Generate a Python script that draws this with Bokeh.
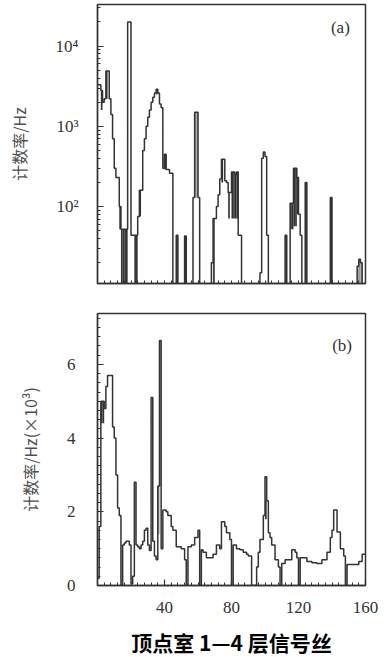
import numpy as np
from bokeh.plotting import figure
from bokeh.models import FixedTicker, Title
from bokeh.layouts import column
from bokeh.embed import file_html
from bokeh.resources import INLINE
from bokeh.core.properties import value

# ---------------- data ----------------
# channel (signal wire) bins 0..159, width 1
rate_a = [3300, 3300, 2800, 2000, 2200, 4900, 4900, 2200, 1400, 700,
          300, 230, 230, 100, 52, 52, 52, 52, 20000, 20000,
          44, 44, 44, 44, 75, 160, 160, 500, 700, 1000,
          1300, 1600, 2000, 2300, 2600, 2900, 2600, 1900, 1700, 300,
          450, 290, 290, 260, 260, 0, 0, 44, 0, 0,
          0, 0, 43, 0, 0, 0, 0, 130, 1500, 1500,
          130, 0, 0, 0, 0, 0, 0, 0, 20, 71,
          71, 100, 140, 220, 390, 390, 210, 200, 150, 150,
          270, 270, 250, 270, 44, 44, 0, 0, 0, 0,
          0, 0, 0, 0, 0, 0, 0, 15, 400, 480,
          420, 44, 0, 0, 0, 0, 0, 0, 0, 0,
          0, 0, 44, 0, 0, 110, 110, 300, 300, 230,
          80, 44, 0, 0, 200, 0, 0, 0, 0, 0,
          0, 0, 0, 0, 0, 0, 0, 0, 0, 130,
          0, 0, 0, 0, 0, 0, 0, 0, 0, 0,
          0, 0, 0, 0, 0, 18, 22, 20, 0, 0]

# dark-filled parts of panel (a): bin, low, high (Hz)
dark_a_bin = [2, 5, 13, 14, 15, 16, 17, 22, 23, 25, 35, 40, 47, 52, 69, 74, 78,
              80, 81, 82, 83, 112, 115, 116, 117, 118, 119, 124, 139]
dark_a_lo = [1600, 2200, 52, 1, 1, 1, 1, 1, 1, 75, 2500, 290, 1, 1, 1, 200, 71,
             71, 71, 71, 71, 1, 52, 52, 57, 57, 80, 1, 1]
dark_a_hi = [2800, 4900, 100, 52, 52, 52, 52, 44, 44, 160, 2900, 450, 44, 43, 71, 390, 150,
             270, 270, 250, 270, 44, 110, 110, 300, 300, 230, 200, 130]
gray_a_bin = [58, 59, 155, 156, 157]
gray_a_lo = [130, 130, 1, 1, 1]
gray_a_hi = [1500, 1500, 18, 22, 20]

rate_b = [0.2, 1.6, 5.0, 5.0, 4.8, 5.4, 5.7, 5.7, 5.7, 4.3,
          4.0, 3.0, 2.1, 1.9, 0, 1.1, 1.15, 1.2, 1.2, 1.1,
          0.05, 0.25, 2.8, 1.1, 1.05, 1.0, 1.1, 1.2, 1.5, 1.55,
          1.1, 0.95, 5.1, 1.2, 0.8, 0.7, 2.7, 6.65, 1.0, 2.05,
          2.05, 2.0, 1.9, 1.9, 1.6, 1.5, 1.5, 1.05, 1.05, 1.05,
          1.0, 1.0, 0.7, 0, 1.05, 1.05, 1.1, 1.1, 1.3, 1.3,
          1.5, 0, 0.97, 0.9, 0.9, 0.75, 0.75, 0.75, 0.75, 0.85,
          0.85, 1.1, 1.1, 1.0, 1.73, 1.73, 1.6, 1.43, 1.43, 1.25,
          0, 1.1, 1.1, 1.0, 1.0, 0.97, 0.97, 0.9, 0.9, 0.85,
          0.8, 0.8, 0, 0, 0, 0.5, 0.9, 1.25, 1.25, 1.9,
          2.95, 2.3, 1.43, 1.3, 1.1, 1.1, 0.7, 0.7, 0.5, 0,
          0.6, 0.6, 0.7, 0.7, 0.7, 0.7, 0.97, 0.97, 0.9, 0.75,
          0, 0.75, 0.75, 0.75, 0.75, 0.65, 0.65, 0.65, 0.62, 0.62,
          0.62, 0.6, 0.6, 0.6, 0.7, 0.7, 0.7, 0.9, 0.9, 1.3,
          1.5, 2.05, 2.05, 1.45, 1.45, 1.0, 1.0, 0.8, 0, 0.57,
          0.57, 0.57, 0.57, 0.57, 0.57, 0.57, 0.65, 0.65, 0.85, 0.85]

dark_b_bin = [2, 3, 100]
dark_b_lo = [4.4, 4.4, 1.8]
dark_b_hi = [5.0, 5.0, 2.3]
gray_b_bin = [36]
gray_b_lo = [1.4]
gray_b_hi = [2.7]

x_tick_vals = [40, 80, 120, 160]
x_tick_labels = ["40", "80", "120", "160"]
a_tick_vals = [100, 1000, 10000]
a_tick_labels = ["10²", "10³", "10⁴"]
b_tick_vals = [0, 2, 4, 6]
b_tick_labels = ["0", "2", "4", "6"]

ylabel_a = "计数率/Hz"
ylabel_b = "计数率/Hz(×10³)"
caption = "顶点室 1—4 层信号丝"

assert len(rate_a) == 160 and len(rate_b) == 160

# ---------------- styling ----------------
INK = "#333333"
SERIF = "Liberation Serif"
CJK = "Noto Sans CJK SC"


def style(p):
    p.outline_line_color = INK
    p.outline_line_width = 1.5
    p.background_fill_color = "white"
    p.border_fill_color = "white"
    p.xgrid.visible = False
    p.ygrid.visible = False
    for ax in (p.xaxis[0], p.yaxis[0]):
        ax.axis_line_color = INK
        ax.axis_line_width = 1.3
        ax.major_tick_in = 6
        ax.major_tick_out = 0
        ax.minor_tick_in = 3
        ax.minor_tick_out = 0
        ax.major_tick_line_color = INK
        ax.minor_tick_line_color = INK
        ax.major_tick_line_width = 1.2
        ax.minor_tick_line_width = 1
        ax.major_label_text_font = SERIF
        ax.major_label_text_font_size = "17px"
        ax.major_label_text_color = INK
        ax.axis_label_text_font = CJK
        ax.axis_label_text_font_size = "16px"
        ax.axis_label_text_font_style = "normal"
        ax.axis_label_text_color = "#505050"


edges = np.arange(161)
minor_x = list(range(0, 161, 4))

# ---------------- panel (a) ----------------
fa = figure(width=381, height=298, x_range=(0, 160), y_range=(11, 33000),
            y_axis_type="log", output_backend="svg", toolbar_location=None,
            min_border_left=97, min_border_right=16, min_border_top=4,
            min_border_bottom=15)
style(fa)
fa.xaxis[0].ticker = FixedTicker(ticks=[], minor_ticks=minor_x)
minor_a = [k * 10 ** n for n in range(1, 5) for k in range(2, 10) if 11 <= k * 10 ** n <= 33000]
fa.yaxis[0].ticker = FixedTicker(ticks=a_tick_vals, minor_ticks=minor_a)
fa.yaxis[0].major_label_overrides = dict(zip(a_tick_vals, a_tick_labels))
fa.yaxis[0].major_label_standoff = 19
fa.yaxis[0].axis_label = ylabel_a
fa.yaxis[0].axis_label_standoff = 22

ya = np.where(np.array(rate_a) > 0, rate_a, 1.0)
fa.quad(left=np.array(gray_a_bin), right=np.array(gray_a_bin) + 1, bottom=gray_a_lo, top=gray_a_hi,
        fill_color="#9a9a9a", line_color=None)
fa.quad(left=np.array(dark_a_bin), right=np.array(dark_a_bin) + 1, bottom=dark_a_lo, top=dark_a_hi,
        fill_color=INK, line_color=None)
fa.step(edges, np.append(ya, ya[-1]), mode="after", line_color=INK, line_width=1.5)
fa.text(x=[145], y=[17000], text=["(a)"], text_font=value(SERIF), text_font_size="17px",
        text_align="center", text_baseline="middle", text_color=INK)

# ---------------- panel (b) ----------------
fb = figure(width=381, height=328, x_range=(0, 160), y_range=(0, 7.38),
            output_backend="svg", toolbar_location=None,
            min_border_left=97, min_border_right=16, min_border_top=15,
            min_border_bottom=41)
style(fb)
fb.xaxis[0].ticker = FixedTicker(ticks=x_tick_vals, minor_ticks=minor_x)
fb.xaxis[0].major_label_overrides = dict(zip(x_tick_vals, x_tick_labels))
fb.xaxis[0].major_label_standoff = 16
fb.yaxis[0].ticker = FixedTicker(ticks=b_tick_vals, minor_ticks=list(np.arange(0, 7.4, 0.25)))
fb.yaxis[0].major_label_overrides = dict(zip(b_tick_vals, b_tick_labels))
fb.yaxis[0].major_label_standoff = 22
fb.yaxis[0].axis_label = ylabel_b
fb.yaxis[0].axis_label_standoff = 22

yb = np.array(rate_b)
fb.quad(left=np.array(gray_b_bin), right=np.array(gray_b_bin) + 1, bottom=gray_b_lo, top=gray_b_hi,
        fill_color="#9a9a9a", line_color=None)
fb.quad(left=np.array(dark_b_bin), right=np.array(dark_b_bin) + 1, bottom=dark_b_lo, top=dark_b_hi,
        fill_color=INK, line_color=None)
fb.step(edges, np.append(yb, yb[-1]), mode="after", line_color=INK, line_width=1.5)
fb.text(x=[146], y=[6.5], text=["(b)"], text_font=value(SERIF), text_font_size="17px",
        text_align="center", text_baseline="middle", text_color=INK)

# ---------------- caption strip (title of an empty strip) ----------------
fc = figure(width=381, height=30, x_range=(0, 1), y_range=(0, 1),
            output_backend="svg", toolbar_location=None,
            x_axis_location=None, y_axis_location=None,
            min_border_left=97, min_border_right=16, min_border_top=0, min_border_bottom=0)
fc.outline_line_color = None
fc.xgrid.visible = False
fc.ygrid.visible = False
fc.background_fill_color = "white"
fc.border_fill_color = "white"
fc.add_layout(Title(text=caption, align="center", text_font=CJK, text_font_size="21px",
                    text_font_style="bold", text_color="black", standoff=0, offset=0), "above")

layout = column(fa, fb, fc)
open("out.html", "w").write(file_html(layout, INLINE))
